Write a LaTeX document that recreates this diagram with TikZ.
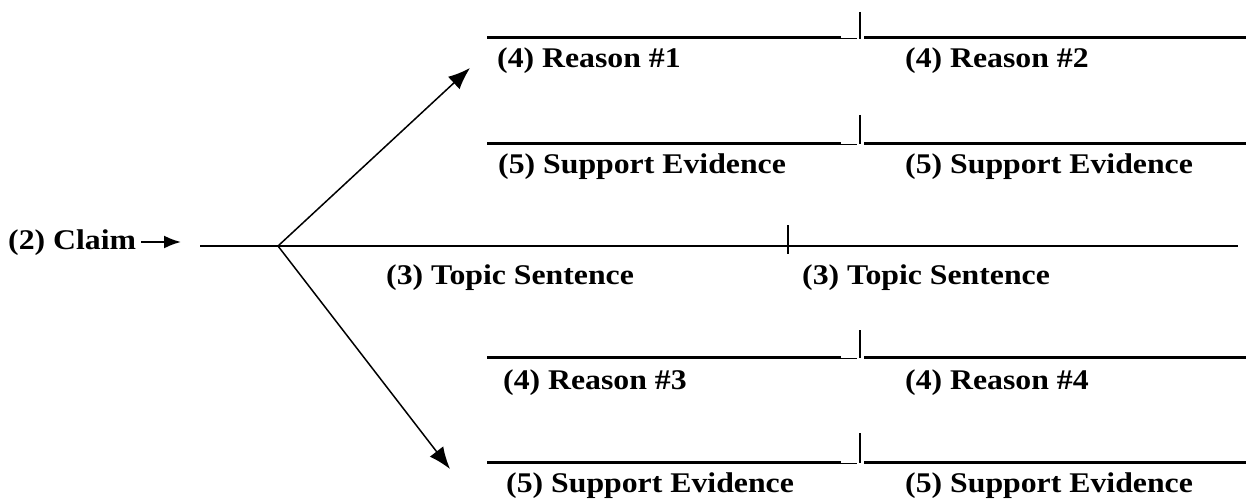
\documentclass[tikz,border=0pt]{standalone}
\usepackage{fontspec}
\setmainfont{Liberation Serif}[FakeStretch=1.115]
\usetikzlibrary{arrows.meta}
\begin{document}
\begin{tikzpicture}[
  x=1pt, y=-1pt,
  blank/.style={line width=3pt},
  seam/.style={line width=1pt},
  tick/.style={line width=2.2pt},
  axis/.style={line width=1.5pt},
  ar/.style={-{Latex[length=22pt,width=17pt]}, line width=1.5pt},
  lab/.style={font=\bfseries\fontsize{28.5}{33}\selectfont, anchor=base west, inner sep=0pt},
]
\useasboundingbox (0,0) rectangle (1246,500);

\node[lab] (claim) at (8,249) {(2) Claim};
\coordinate (ctip) at (181,242);
\draw[-{Latex[length=17pt,width=13pt]}, line width=2pt] (claim.east |- ctip) ++(5,0) -- (ctip);

% main line with the branch
\coordinate (m0) at (200,246);
\coordinate (br) at (278,246);
\coordinate (m1) at (1238,246);
\draw[axis] (m0) -- (m1);
\draw[tick] (788,225) -- (788,254);
\coordinate (up)   at (470,68);
\coordinate (down) at (450,469);
\draw[ar] (br) -- (up);
\draw[ar] (br) -- (down);

\node[lab] (ts1) at (386,284) {(3) Topic Sentence};
\node[lab] (ts2) at (802,284) {(3) Topic Sentence};

% blanks above
\draw[blank] (487,38) -- (841,38);
\draw[seam] (841,39) -- (857,39);
\draw[tick] (860,12) -- (860,39);
\draw[blank] (864,38) -- (1246,38);
\node[lab] (r1) at (497,68) {(4) Reason \#1};
\node[lab] (r2) at (905,68) {(4) Reason \#2};

\draw[blank] (487,143) -- (841,143);
\draw[seam] (841,144) -- (857,144);
\draw[tick] (860,115) -- (860,144);
\draw[blank] (864,143) -- (1246,143);
\node[lab] (e1) at (498,173) {(5) Support Evidence};
\node[lab] (e2) at (905,173) {(5) Support Evidence};

% blanks below
\draw[blank] (487,357) -- (841,357);
\draw[seam] (841,358) -- (857,358);
\draw[tick] (860,330) -- (860,358);
\draw[blank] (864,357) -- (1246,357);
\node[lab] (r3) at (503,389) {(4) Reason \#3};
\node[lab] (r4) at (905,389) {(4) Reason \#4};

\draw[blank] (487,462) -- (841,462);
\draw[seam] (841,463) -- (857,463);
\draw[tick] (860,433) -- (860,463);
\draw[blank] (864,462) -- (1246,462);
\node[lab] (e3) at (506,492) {(5) Support Evidence};
\node[lab] (e4) at (905,492) {(5) Support Evidence};
\end{tikzpicture}
\end{document}
